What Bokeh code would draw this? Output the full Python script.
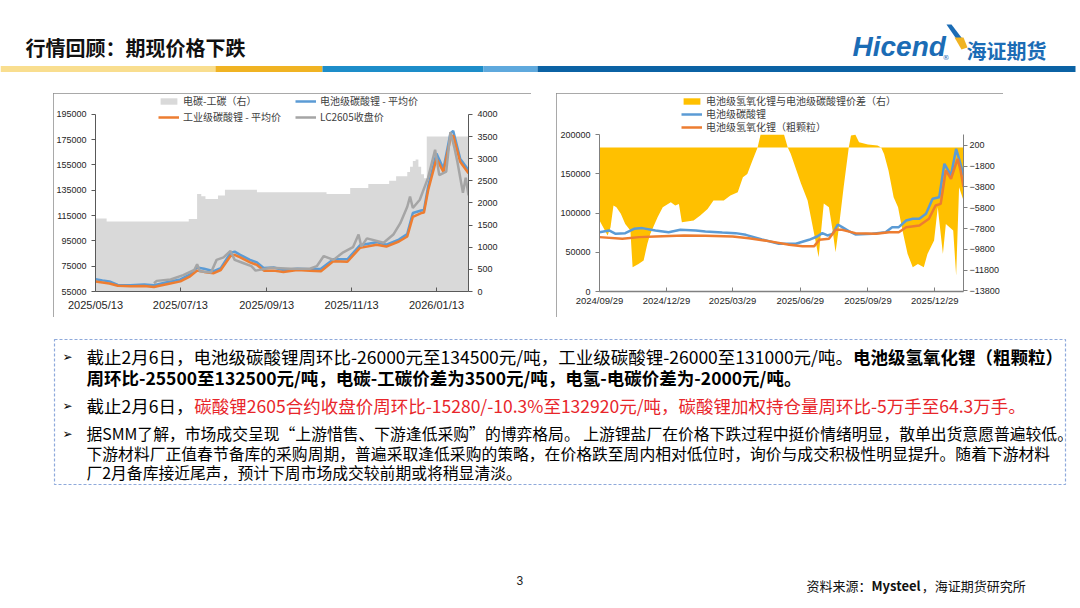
import pandas as pd
from bokeh.plotting import figure
from bokeh.models import (Range1d, LinearAxis, FixedTicker, DatetimeTickFormatter,
                          BasicTickFormatter, Legend, LegendItem, Spacer)
from bokeh.layouts import row, column
from bokeh.core.properties import value
from bokeh.embed import file_html
from bokeh.resources import INLINE

CJK = "Noto Sans CJK SC"
NUM = "Liberation Sans"

# ---------------- left chart data ----------------
L_DATES = ["2025-05-13", "2025-05-18", "2025-05-23", "2025-05-29", "2025-06-07", "2025-06-17",
           "2025-06-24", "2025-06-28", "2025-07-04", "2025-07-13", "2025-07-20", "2025-07-25",
           "2025-07-30", "2025-08-06", "2025-08-11", "2025-08-18", "2025-08-21", "2025-08-25",
           "2025-09-01", "2025-09-06", "2025-09-11", "2025-09-18", "2025-09-25", "2025-10-05",
           "2025-10-14", "2025-10-22", "2025-10-31", "2025-11-10", "2025-11-19", "2025-12-01",
           "2025-12-08", "2025-12-17", "2025-12-23", "2025-12-27", "2026-01-02", "2026-01-04",
           "2026-01-07", "2026-01-13", "2026-01-18", "2026-01-23", "2026-01-25", "2026-01-30",
           "2026-02-05"]
L_BATTERY = [64700, 63800, 63000, 60200, 60000, 60500, 60000, 61000, 62500, 64500, 68500, 74000,
             73000, 71000, 73500, 85500, 86500, 84000, 80000, 78000, 73500, 74000, 72000, 73000,
             72500, 73000, 80500, 80500, 91500, 94000, 92000, 96000, 100500, 117000, 119000, 119500,
             138000, 164000, 152000, 180000, 182000, 160000, 151000]
L_INDUSTRIAL = [62900, 62100, 61300, 59500, 59200, 59400, 58500, 59500, 61000, 63000, 67000, 71500,
                70500, 69500, 72000, 83000, 84000, 82000, 78000, 76000, 71500, 71500, 70500, 72000,
                71500, 71000, 79000, 78500, 89500, 92000, 90500, 94500, 98500, 114000, 117000, 117500,
                135000, 160000, 149500, 176000, 178500, 157500, 148500]
LC_DATES = ["2025-06-24", "2025-06-26", "2025-07-06", "2025-07-15", "2025-07-23", "2025-07-25",
            "2025-07-27", "2025-08-04", "2025-08-08", "2025-08-13", "2025-08-18", "2025-08-21",
            "2025-08-27", "2025-09-02", "2025-09-05", "2025-09-16", "2025-09-30", "2025-10-14",
            "2025-10-19", "2025-10-24", "2025-10-31", "2025-11-07", "2025-11-14", "2025-11-18",
            "2025-11-20", "2025-11-24", "2025-12-06", "2025-12-13", "2025-12-18", "2025-12-23",
            "2025-12-25", "2025-12-27", "2026-01-01", "2026-01-07", "2026-01-12", "2026-01-15",
            "2026-01-20", "2026-01-23", "2026-01-26", "2026-01-28", "2026-02-01", "2026-02-03",
            "2026-02-05"]
LC_CLOSE = [61500, 63400, 64500, 68000, 72000, 76500, 71000, 70000, 80000, 82000, 87000, 80000,
            77500, 75000, 71500, 73800, 73000, 73000, 75000, 83000, 80000, 86000, 90000, 100000,
            90500, 97000, 93500, 100000, 109000, 122000, 130000, 121000, 127500, 145000, 167000,
            147000, 149700, 181000, 168000, 157600, 133000, 145000, 131000]
SPREAD_DATES = ["2025-05-13", "2025-05-21", "2025-07-19", "2025-07-25", "2025-07-28", "2025-07-31",
                "2025-08-09", "2025-08-14", "2025-09-06", "2025-10-26", "2025-11-12", "2025-11-25",
                "2025-12-10", "2025-12-15", "2025-12-23", "2025-12-25", "2025-12-27", "2025-12-29",
                "2025-12-31", "2026-01-02", "2026-01-04", "2026-01-06", "2026-02-06"]
SPREAD_VALS = [1650, 1580, 1640, 2200, 2150, 2090, 2170, 2300, 2240, 2200, 2340, 2430,
               2500, 2600, 2700, 2820, 2950, 2980, 2820, 2650, 2560, 3500, 3500]
L_XTICKS = ["2025-05-13", "2025-07-13", "2025-09-13", "2025-11-13", "2026-01-13"]
L_YTICKS = [55000, 75000, 95000, 115000, 135000, 155000, 175000, 195000]
L_RTICKS = [0, 500, 1000, 1500, 2000, 2500, 3000, 3500, 4000]
L_NAMES = ["电碳-工碳（右）", "电池级碳酸锂 - 平均价", "工业级碳酸锂 - 平均价", "LC2605收盘价"]

# ---------------- right chart data ----------------
R_DIFF_DATES = ["2024-09-29", "2024-10-04", "2024-10-10", "2024-10-14", "2024-10-18", "2024-10-22",
                "2024-10-28", "2024-11-03", "2024-11-10", "2024-11-13", "2024-11-21", "2024-11-28",
                "2024-12-03", "2024-12-07", "2024-12-17", "2024-12-24", "2025-01-04", "2025-01-10",
                "2025-01-15", "2025-01-19", "2025-02-04", "2025-02-13", "2025-02-23", "2025-03-03",
                "2025-03-17", "2025-03-26", "2025-04-05", "2025-04-12", "2025-04-18", "2025-04-25",
                "2025-05-02", "2025-05-06", "2025-06-07", "2025-06-12", "2025-06-16", "2025-06-30",
                "2025-07-09", "2025-07-17", "2025-07-24", "2025-07-27", "2025-07-31", "2025-08-07",
                "2025-08-12", "2025-08-16", "2025-08-20", "2025-08-27", "2025-09-03", "2025-09-06",
                "2025-09-12", "2025-09-17", "2025-09-29", "2025-10-12", "2025-10-17", "2025-10-21",
                "2025-10-27", "2025-11-03", "2025-11-09", "2025-11-15", "2025-11-22", "2025-11-29",
                "2025-12-06", "2025-12-14", "2025-12-19", "2025-12-28", "2026-01-02", "2026-01-09",
                "2026-01-13", "2026-01-23", "2026-01-27", "2026-01-31", "2026-02-06"]
R_DIFF_VALS = [-7040, -7680, -8480, -7680, -5590, -5750, -6390, -7360, -8000, -11540, -11220, -10890,
               -9290, -8320, -6710, -5750, -5270, -5590, -5430, -7200, -7040, -6550, -5910, -5110,
               -5110, -4630, -4310, -2860, -2540, -1250, 0, 1230, 1230, 0, -600, -3470,
               -5110, -8000, -10570, -8330, -5400, -5750, -8000, -10090, -8000, -3830, 0, 1160,
               1230, 510, 290, 200, 0, -610, -2220, -4790, -5750, -8000, -10250, -11540,
               -11220, -11540, -10250, -8960, -5750, -10250, -7360, -8000, -12340, -3830, -5110]
R_BAT_DATES = ["2024-09-29", "2024-10-12", "2024-10-21", "2024-11-03", "2024-11-15", "2024-11-26",
               "2024-12-14", "2025-01-01", "2025-01-17", "2025-02-07", "2025-02-20", "2025-03-15",
               "2025-04-02", "2025-04-16", "2025-05-08", "2025-05-31", "2025-06-23", "2025-07-11",
               "2025-07-22", "2025-07-29", "2025-08-05", "2025-08-12", "2025-08-19", "2025-08-25",
               "2025-09-03", "2025-09-12", "2025-10-05", "2025-10-23", "2025-11-01", "2025-11-10",
               "2025-11-20", "2025-11-29", "2025-12-08", "2025-12-17", "2025-12-26", "2026-01-04",
               "2026-01-11", "2026-01-20", "2026-01-27", "2026-01-31", "2026-02-06"]
R_BAT_VALS = [75700, 77900, 73600, 74500, 80000, 80900, 77900, 75700, 78700, 77900, 76600, 75300,
              74500, 72300, 66400, 60900, 60900, 66000, 70200, 74500, 71500, 73600, 85500, 82100,
              77000, 72800, 73600, 75700, 82100, 82100, 90600, 92800, 92800, 99100, 118300, 120400,
              163000, 148100, 182100, 169400, 148100]
R_HYD_DATES = ["2024-09-29", "2024-10-30", "2024-11-22", "2024-12-14", "2025-01-22", "2025-02-20",
               "2025-03-29", "2025-04-20", "2025-05-17", "2025-06-14", "2025-07-02", "2025-07-18",
               "2025-07-25", "2025-08-07", "2025-08-16", "2025-08-25", "2025-09-12", "2025-10-10",
               "2025-10-28", "2025-11-10", "2025-11-20", "2025-12-08", "2025-12-21", "2025-12-30",
               "2026-01-06", "2026-01-13", "2026-01-20", "2026-01-29", "2026-02-02", "2026-02-06"]
R_HYD_VALS = [69400, 67200, 69400, 70200, 71500, 71100, 70200, 68100, 64300, 59600, 57900, 57900,
              66000, 67200, 78700, 78700, 74500, 73600, 75700, 75700, 82100, 84300, 92800, 109800,
              111900, 154500, 143800, 169400, 154500, 133200]
R_XTICKS = ["2024-09-29", "2024-12-29", "2025-03-29", "2025-06-29", "2025-09-29", "2025-12-29"]
R_YTICKS = [0, 50000, 100000, 150000, 200000]
R_RTICKS = [200, -1800, -3800, -5800, -7800, -9800, -11800, -13800]
R_NAMES = ["电池级氢氧化锂与电池级碳酸锂价差（右）", "电池级碳酸锂", "电池级氢氧化锂（粗颗粒）"]

# ---------------- slide texts ----------------
TITLE = "行情回顾：期现价格下跌"
L1A = "截止2月6日，电池级碳酸锂周环比-26000元至134500元/吨，工业级碳酸锂-26000至131000元/吨。"
L1B = "电池级氢氧化锂（粗颗粒）"
L2 = "周环比-25500至132500元/吨，电碳-工碳价差为3500元/吨，电氢-电碳价差为-2000元/吨。"
L3A = "截止2月6日，"
L3B = "碳酸锂2605合约收盘价周环比-15280/-10.3%至132920元/吨，碳酸锂加权持仓量周环比-5万手至64.3万手。"
L4 = "据SMM了解，市场成交呈现“上游惜售、下游逢低采购”的博弈格局。 上游锂盐厂在价格下跌过程中挺价情绪明显，散单出货意愿普遍较低。"
L5 = "下游材料厂正值春节备库的采购周期，普遍采取逢低采购的策略，在价格跌至周内相对低位时，询价与成交积极性明显提升。随着下游材料"
L6 = "厂2月备库接近尾声，预计下周市场成交较前期或将稍显清淡。"
SRC = ["资料来源：", "Mysteel", "，海证期货研究所"]
PAGE = "3"

BLUE, ORANGE, GRAYL, GRAYA, YELLOW = "#5B9BD5", "#ED7D31", "#A5A5A5", "#D9D9D9", "#FFC000"

def ts(lst):
    return pd.to_datetime(lst)

def ms(lst):
    return [pd.Timestamp(d).value / 1e6 for d in lst]

FMT = DatetimeTickFormatter(**{k: "%Y/%m/%d" for k in
                               ["microseconds", "milliseconds", "seconds", "minsec", "minutes",
                                "hourmin", "hours", "days", "months", "years"]})

def style_axis(ax, size, color="#595959"):
    ax.major_label_text_font = NUM
    ax.major_label_text_font_size = size
    ax.major_label_text_color = "#262626"
    ax.axis_line_color = color
    ax.major_tick_line_color = color
    ax.minor_tick_line_color = None

def base_fig(w, h, xr, yr, ml, mr, mt, mb):
    p = figure(width=w, height=h, x_axis_type="datetime", output_backend="svg",
               toolbar_location=None, x_range=xr, y_range=yr,
               min_border_left=ml, min_border_right=mr, min_border_top=mt, min_border_bottom=mb)
    p.xgrid.visible = False
    p.ygrid.visible = False
    p.outline_line_color = None
    p.background_fill_color = "white"
    p.border_fill_color = "white"
    p.styles = {"outline": "1px solid #8c8c8c", "outline-offset": "-1px"}
    return p

def legend(items, loc, lw=None):
    kw = dict(items=items, location=loc, orientation="horizontal", glyph_width=21, glyph_height=8,
              label_height=12, label_standoff=4, spacing=0, padding=0, margin=0,
              border_line_color=None, background_fill_alpha=0,
              label_text_font=CJK, label_text_font_size="10px", label_text_color="#404040")
    if lw:
        kw["label_width"] = lw
    return Legend(**kw)

# ---------------- left chart ----------------
p1 = base_fig(478, 224, Range1d(pd.Timestamp("2025-05-13"), pd.Timestamp("2026-02-05")),
              Range1d(55000, 210730), 42, 63, 1, 25)
p1.extra_y_ranges = {"r": Range1d(0, 4449)}
a1 = p1.varea_step(x=ts(SPREAD_DATES), y1=0, y2=SPREAD_VALS, step_mode="after",
                   fill_color=GRAYA, y_range_name="r")
b1 = p1.line(ts(L_DATES), L_BATTERY, line_color=BLUE, line_width=2.5)
o1 = p1.line(ts(L_DATES), L_INDUSTRIAL, line_color=ORANGE, line_width=2.5)
g1 = p1.line(ts(LC_DATES), LC_CLOSE, line_color=GRAYL, line_width=2.5)
p1.xaxis.ticker = FixedTicker(ticks=ms(L_XTICKS))
p1.xaxis.formatter = FMT
p1.yaxis.ticker = FixedTicker(ticks=L_YTICKS)
p1.yaxis.formatter = BasicTickFormatter(use_scientific=False)
p1.yaxis[0].bounds = (55000, 195000)
r1 = LinearAxis(y_range_name="r", ticker=FixedTicker(ticks=L_RTICKS), bounds=(0, 4000))
p1.add_layout(r1, "right")
for ax in p1.yaxis:
    style_axis(ax, "9px")
    ax.major_tick_in, ax.major_tick_out = 0, 4
style_axis(p1.xaxis[0], "11px")
p1.xaxis.major_tick_in, p1.xaxis.major_tick_out = 4, 0
p1.xaxis.major_label_standoff = 7
p1.add_layout(legend([LegendItem(label=L_NAMES[0], renderers=[a1]),
                      LegendItem(label=L_NAMES[1], renderers=[b1])], (63, 183), 112))
p1.add_layout(legend([LegendItem(label=L_NAMES[2], renderers=[o1]),
                      LegendItem(label=L_NAMES[3], renderers=[g1])], (63, 167), 112))

# ---------------- right chart ----------------
p2 = base_fig(447, 224, Range1d(pd.Timestamp("2024-09-29"), pd.Timestamp("2026-02-06")),
              Range1d(0, 251435), 43, 40, 1, 26)
p2.extra_y_ranges = {"r": Range1d(-13870, 5113)}
a2 = p2.varea(x=ts(R_DIFF_DATES), y1=0, y2=R_DIFF_VALS, fill_color=YELLOW, y_range_name="r")
b2 = p2.line(ts(R_BAT_DATES), R_BAT_VALS, line_color=BLUE, line_width=2.5)
o2 = p2.line(ts(R_HYD_DATES), R_HYD_VALS, line_color=ORANGE, line_width=2.5)
p2.xaxis.ticker = FixedTicker(ticks=ms(R_XTICKS))
p2.xaxis.formatter = FMT
p2.yaxis.ticker = FixedTicker(ticks=R_YTICKS)
p2.yaxis.formatter = BasicTickFormatter(use_scientific=False)
p2.yaxis[0].bounds = (0, 200000)
r2 = LinearAxis(y_range_name="r", ticker=FixedTicker(ticks=R_RTICKS), bounds=(-13870, 1230))
p2.add_layout(r2, "right")
for ax in p2.yaxis:
    style_axis(ax, "9px", "#808080")
    ax.major_tick_in, ax.major_tick_out = 0, 4
r2.major_label_standoff = 2
style_axis(p2.xaxis[0], "9.5px", "#808080")
p2.xaxis.axis_line_width = 1.6
p2.xaxis.major_tick_in, p2.xaxis.major_tick_out = 4, 0
p2.xaxis.major_label_standoff = 3
for item, vy in zip([LegendItem(label=R_NAMES[0], renderers=[a2]),
                     LegendItem(label=R_NAMES[1], renderers=[b2]),
                     LegendItem(label=R_NAMES[2], renderers=[o2])], (183, 170, 157)):
    p2.add_layout(legend([item], (82, vy)))

# ---------------- slide canvases ----------------
def canvas(h, y0):
    c = figure(width=1080, height=h, x_range=Range1d(0, 1080), y_range=Range1d(y0 + h, y0),
               output_backend="svg", toolbar_location=None, x_axis_location=None,
               y_axis_location=None, min_border=0)
    c.outline_line_color = None
    c.grid.grid_line_color = None
    c.background_fill_color = "white"
    c.border_fill_color = "white"
    return c

def tw(s, size, bold=False):
    w = 0.0
    for ch in s:
        o = ord(ch)
        if o >= 0x2E80 or ch in "“”":
            w += 1.0
        elif ch.isdigit():
            w += 0.575 if bold else 0.553
        elif ch == "-":
            w += 0.34
        elif ch == "/":
            w += 0.37
        elif ch == ".":
            w += 0.26
        elif ch == "%":
            w += 0.85
        elif ch == " ":
            w += 0.23
        elif ch.isupper():
            w += 0.66
        else:
            w += 0.52
    return w * size

def txt(c, x, y, s, size, color="#000000", bold=False, font=CJK, align="left", style=None):
    c.text(x=[x], y=[y], text=[s], text_font=value(font), text_font_size=value(f"{size}px"),
           text_color=color, text_baseline="middle", text_align=align,
           text_font_style=style or ("bold" if bold else "normal"))

head = canvas(93, 0)
head.quad(left=[0, 215, 322, 483, 537], right=[215, 322, 483, 537, 1075],
          top=[65.5] * 5, bottom=[71.5] * 5,
          fill_color=["#F9DE8F", "#F0B323", "#1D8DC9", "#5FA9DD", "#0B62A4"], line_color=None)
txt(head, 25, 47, TITLE, 20, "#111111", bold=True)
txt(head, 852, 46, "Hicend", 28, "#1B6CB5", font="Liberation Sans", style="bold italic")
txt(head, 942, 57, "®", 7, "#1B6CB5", font="DejaVu Sans")
head.patch(x=[946, 951, 964, 959], y=[24, 24, 41, 43], fill_color="#1B6CB5", line_color=None)
head.patch(x=[954, 963, 967, 961], y=[37, 37, 47, 49], fill_color="#F0B323", line_color=None)
txt(head, 966, 50, "海证期货", 20, "#1B6CB5", bold=True)

low = canvas(290, 317)
low.quad(left=[54], right=[1065], top=[339], bottom=[484], fill_color=None,
         line_color="#8EA9DB", line_dash="3 2", line_width=1.2)
for yb in (356, 405, 433):
    txt(low, 62, yb, "➢", 12, "#000000", font="DejaVu Sans")
X0 = 86
S1 = 17.5
txt(low, X0, 356, L1A, S1)
txt(low, X0 + tw(L1A, S1) + 2, 356, L1B, S1, bold=True)
txt(low, X0, 377, L2, S1, bold=True)
txt(low, X0, 405, L3A, S1)
txt(low, X0 + tw(L3A, S1) + 1, 405, L3B, S1, "#E8262B")
S2 = 15.8
txt(low, X0, 433, L4, S2)
txt(low, X0, 453, L5, S2)
txt(low, X0, 472, L6, S2)
txt(low, 516, 580, PAGE, 12, "#222222", font="Liberation Sans")
sx = 806
for i, s in enumerate(SRC):
    txt(low, sx, 585, s, 13, "#111111", bold=(i == 1))
    sx += tw(s, 13, bold=(i == 1)) + (1 if i == 1 else 0)

charts = row(Spacer(width=53, height=224), p1, Spacer(width=25, height=224), p2,
             Spacer(width=77, height=224))
page = column(head, charts, low)

open("out.html", "w").write(file_html(page, INLINE))
